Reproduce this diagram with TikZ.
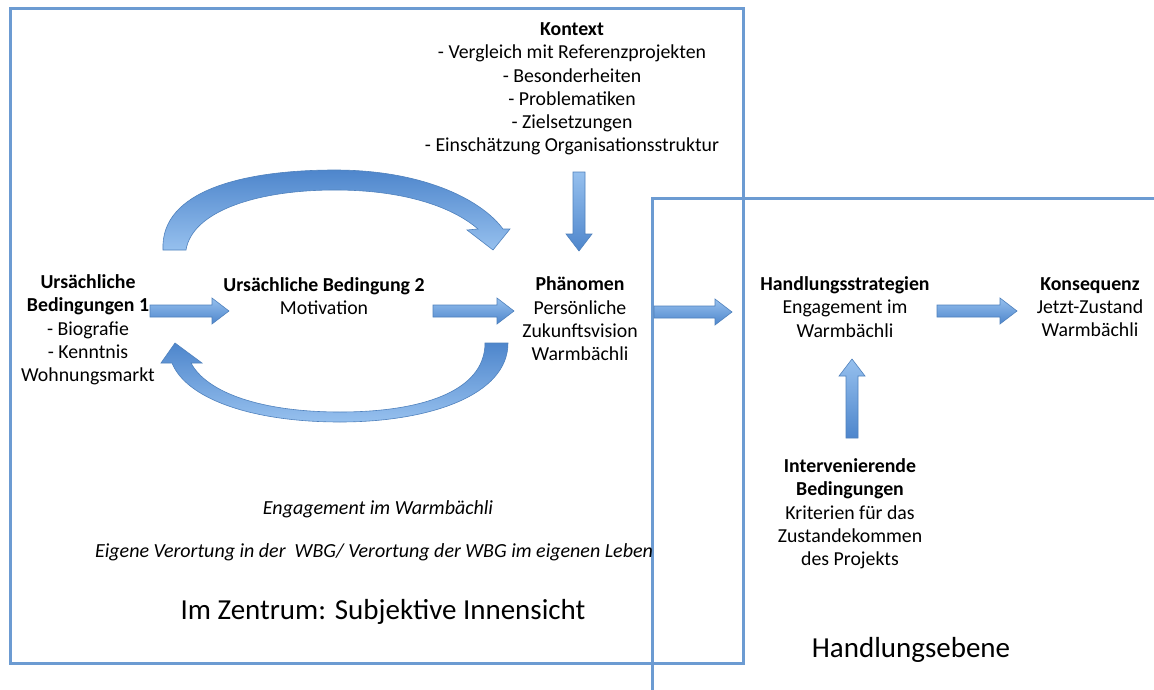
\documentclass[tikz,border=0pt]{standalone}
\usepackage{fontspec}
\setmainfont{Carlito}
\usepackage{tikz}
\definecolor{framecol}{RGB}{108,155,210}
\definecolor{arrowlight}{RGB}{150,192,238}
\definecolor{arrowdark}{RGB}{78,134,204}
\definecolor{arrowline}{RGB}{79,129,189}
\tikzstyle{txt} = [align=center, inner sep=0pt, font=\fontsize{19.8}{23.3}\selectfont]
\tikzstyle{bigtxt} = [inner sep=0pt, font=\fontsize{29}{34}\selectfont]
\tikzstyle{zonebox} = [draw=framecol, line width=3pt]
\tikzstyle{curvearrow} = [draw=arrowline, line width=0.6pt, top color=arrowdark, bottom color=arrowlight]
\tikzstyle{blockarrow} = [draw=arrowline, line width=0.6pt, top color=arrowlight, bottom color=arrowdark,
    to path={($(\tikztostart)!6pt!-90:(\tikztotarget)$)
      -- ($(\tikztotarget)!17pt!(\tikztostart)!6pt!90:(\tikztostart)$)
      -- ($(\tikztotarget)!17pt!(\tikztostart)!13pt!90:(\tikztostart)$)
      -- (\tikztotarget)
      -- ($(\tikztotarget)!17pt!(\tikztostart)!13pt!-90:(\tikztostart)$)
      -- ($(\tikztotarget)!17pt!(\tikztostart)!6pt!-90:(\tikztostart)$)
      -- ($(\tikztostart)!6pt!90:(\tikztotarget)$) -- cycle}]
\usetikzlibrary{calc}
\usetikzlibrary{arrows.meta}
\usetikzlibrary{positioning}

\begin{document}
\begin{tikzpicture}[x=1pt, y=-1pt]
    \useasboundingbox[fill=white] (0,0) rectangle (1154,690);

    \draw[zonebox] (10,9) rectangle (743,663);
    \draw[zonebox] (652,198) rectangle (1175,710);

    \node[txt] (kontext) at (572,89) {\textbf{Kontext}\\- Vergleich mit Referenzprojekten\\- Besonderheiten\\- Problematiken\\- Zielsetzungen\\- Einschätzung Organisationsstruktur};
    \node[txt] (ursache1) at (88,330) {\textbf{Ursächliche}\\\textbf{Bedingungen 1}\\- Biografie\\- Kenntnis\\Wohnungsmarkt};
    \node[txt] (ursache2) at (324,296) {\textbf{Ursächliche Bedingung 2}\\Motivation};
    \node[txt] (phaenomen) at (580,319) {\textbf{Phänomen}\\Persönliche\\Zukunftsvision\\Warmbächli};
    \node[txt] (strategie) at (845,307) {\textbf{Handlungsstrategien}\\Engagement im\\Warmbächli};
    \node[txt] (konsequenz) at (1090,307) {\textbf{Konsequenz}\\Jetzt-Zustand\\Warmbächli};
    \node[txt] (interv) at (850,514) {\textbf{Intervenierende}\\\textbf{Bedingungen}\\Kriterien für das\\Zustandekommen\\des Projekts};

    \node[txt, font=\fontsize{20}{23}\selectfont\itshape] (engagement) at (378,509) {Engagement im Warmbächli};
    \node[txt, font=\fontsize{20}{23}\selectfont\itshape, below=26pt of engagement, xshift=-4pt] (verortung) {Eigene Verortung in der\ \ WBG/ Verortung der WBG im eigenen Leben};
    \node[bigtxt] (zentrum) at (383,612) {Im Zentrum: Subjektive Innensicht};
    \node[bigtxt] (ebene) at (911,650) {Handlungsebene};

    % straight block arrows
    \coordinate (a1s) at (150,311);
    \coordinate (a1e) at (229,311);
    \coordinate (a2s) at (433,311);
    \coordinate (a2e) at (514,311);
    \coordinate (a3s) at (654,312);
    \coordinate (a3e) at (732,312);
    \coordinate (a4s) at (937,311);
    \coordinate (a4e) at (1017,311);
    \coordinate (kos) at (579,172);
    \coordinate (koe) at (579,251);
    \coordinate (ins) at (852,438);
    \coordinate (ine) at (852,359);
    \draw[blockarrow] (a1s) to (a1e);
    \draw[blockarrow] (a2s) to (a2e);
    \draw[blockarrow] (a3s) to (a3e);
    \draw[blockarrow] (a4s) to (a4e);
    \draw[blockarrow] (kos) to (koe);
    \draw[blockarrow] (ins) to (ine);

    % curved arrows
    \path[curvearrow] (163,250) .. controls (160,190) and (245,170) .. (335,170)
        .. controls (420,170) and (480,198) .. (503,229) -- (510,229) -- (493,250) -- (467,230) -- (478,229)
        .. controls (450,205) and (400,190) .. (335,190) .. controls (255,190) and (192,212) .. (186,250) -- cycle;
    \path[curvearrow] (508,343) .. controls (508,395) and (430,422) .. (340,422)
        .. controls (250,422) and (186,398) .. (172,363) -- (161,363) -- (175,343) -- (202,363) -- (191,363)
        .. controls (207,393) and (262,412) .. (340,412) .. controls (420,412) and (485,392) .. (485,343) -- cycle;
\end{tikzpicture}
\end{document}
